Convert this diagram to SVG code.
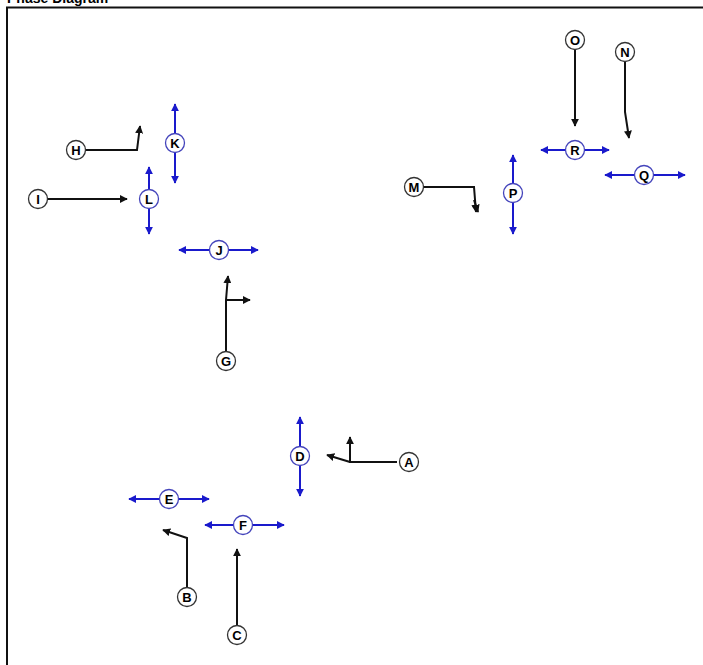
<svg xmlns="http://www.w3.org/2000/svg" width="703" height="665" viewBox="0 0 703 665">
<style>
.title{font-family:"Liberation Sans",Arial,sans-serif;font-weight:bold;font-size:14px;fill:#000}
.nb circle{fill:#fff;stroke:#333;stroke-width:1.3}
.nu circle{fill:#fff;stroke:#4444bb;stroke-width:1.3}
.n text{font-family:"Liberation Sans",Arial,sans-serif;font-weight:bold;font-size:13px;text-anchor:middle;fill:#000}
.k{fill:none;stroke:#111;stroke-width:2}
.u{fill:none;stroke:#1a1acc;stroke-width:2}
</style>
<defs>
<marker id="ak" viewBox="0 0 10 10" refX="9" refY="5" markerWidth="8" markerHeight="8" markerUnits="userSpaceOnUse" orient="auto"><path d="M0,0 L10,5 L0,10 z" fill="#111"/></marker>
<marker id="au" viewBox="0 0 10 10" refX="9" refY="5" markerWidth="8" markerHeight="8" markerUnits="userSpaceOnUse" orient="auto-start-reverse"><path d="M0,0 L10,5 L0,10 z" fill="#1a1acc"/></marker>
</defs>
<rect width="703" height="665" fill="#fff"/>
<text class="title" x="7" y="3">Phase Diagram</text>
<rect x="7" y="7.5" width="710" height="680" fill="none" stroke="#111" stroke-width="2"/>
<g id="connectors">
<path class="k" d="M86,150 H137 L140,126" marker-end="url(#ak)"/>
<path class="k" d="M48,199 H127" marker-end="url(#ak)"/>
<path class="u" d="M175,104 V183" marker-start="url(#au)" marker-end="url(#au)"/>
<path class="u" d="M149,167 V234" marker-start="url(#au)" marker-end="url(#au)"/>
<path class="u" d="M179,250 H258" marker-start="url(#au)" marker-end="url(#au)"/>
<path class="k" d="M226,351 V300 L228,276" marker-end="url(#ak)"/>
<path class="k" d="M226,300 H250" marker-end="url(#ak)"/>
<path class="k" d="M575,50 V126" marker-end="url(#ak)"/>
<path class="k" d="M625,62 V112 L629,138" marker-end="url(#ak)"/>
<path class="u" d="M541,150 H609" marker-start="url(#au)" marker-end="url(#au)"/>
<path class="u" d="M605,175 H685" marker-start="url(#au)" marker-end="url(#au)"/>
<path class="k" d="M424,187 H474 L476,212" marker-end="url(#ak)"/>
<path class="k" d="M474,200 L478,212" marker-end="url(#ak)"/>
<path class="u" d="M513,155 V234" marker-start="url(#au)" marker-end="url(#au)"/>
<path class="k" d="M397,462 H350 V437" marker-end="url(#ak)"/>
<path class="k" d="M350,462 L327,455" marker-end="url(#ak)"/>
<path class="u" d="M300,417 V496" marker-start="url(#au)" marker-end="url(#au)"/>
<path class="u" d="M129,499 H209" marker-start="url(#au)" marker-end="url(#au)"/>
<path class="u" d="M205,525 H284" marker-start="url(#au)" marker-end="url(#au)"/>
<path class="k" d="M187,587 V538 L163,530" marker-end="url(#ak)"/>
<path class="k" d="M237,625 V549" marker-end="url(#ak)"/>
</g>
<g id="node-A" class="n nb"><circle cx="409" cy="462" r="9.5"/><text x="409" y="466.5">A</text></g>
<g id="node-B" class="n nb"><circle cx="187" cy="597" r="9.5"/><text x="187" y="601.5">B</text></g>
<g id="node-C" class="n nb"><circle cx="237" cy="635" r="9.5"/><text x="237" y="639.5">C</text></g>
<g id="node-D" class="n nu"><circle cx="300" cy="456" r="9.5"/><text x="300" y="460.5">D</text></g>
<g id="node-E" class="n nu"><circle cx="169" cy="499" r="9.5"/><text x="169" y="503.5">E</text></g>
<g id="node-F" class="n nu"><circle cx="243" cy="525" r="9.5"/><text x="243" y="529.5">F</text></g>
<g id="node-G" class="n nb"><circle cx="226" cy="361" r="9.5"/><text x="226" y="365.5">G</text></g>
<g id="node-H" class="n nb"><circle cx="76" cy="150" r="9.5"/><text x="76" y="154.5">H</text></g>
<g id="node-I" class="n nb"><circle cx="38" cy="199" r="9.5"/><text x="38" y="203.5">I</text></g>
<g id="node-J" class="n nu"><circle cx="219" cy="250" r="9.5"/><text x="219" y="254.5">J</text></g>
<g id="node-K" class="n nu"><circle cx="175" cy="143" r="9.5"/><text x="175" y="147.5">K</text></g>
<g id="node-L" class="n nu"><circle cx="149" cy="199" r="9.5"/><text x="149" y="203.5">L</text></g>
<g id="node-M" class="n nb"><circle cx="414" cy="187" r="9.5"/><text x="414" y="191.5">M</text></g>
<g id="node-N" class="n nb"><circle cx="625" cy="52" r="9.5"/><text x="625" y="56.5">N</text></g>
<g id="node-O" class="n nb"><circle cx="575" cy="40" r="9.5"/><text x="575" y="44.5">O</text></g>
<g id="node-P" class="n nu"><circle cx="513" cy="193" r="9.5"/><text x="513" y="197.5">P</text></g>
<g id="node-Q" class="n nu"><circle cx="644" cy="175" r="9.5"/><text x="644" y="179.5">Q</text></g>
<g id="node-R" class="n nu"><circle cx="575" cy="150" r="9.5"/><text x="575" y="154.5">R</text></g>
</svg>
